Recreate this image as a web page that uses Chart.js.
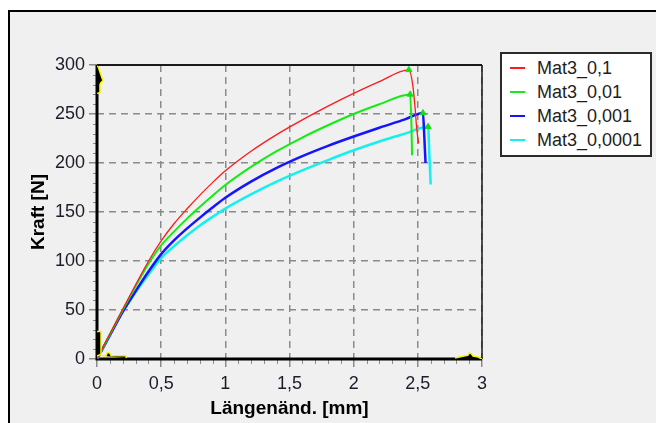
<!DOCTYPE html>
<html lang="de">
<head>
<meta charset="UTF-8">
<title>Kraft-Längenänderung Mat3</title>
<style>
  body { margin: 0; background: #fff; font-family: "Liberation Sans", Arial, sans-serif; }
  .wrap { position: relative; width: 656px; height: 423px; overflow: hidden; }
  .frame { position: absolute; left: 8px; top: 10px; width: 700px; height: 500px; background: #f0f0f0; border-left: 2px solid #000; border-top: 2px solid #000; }
  #chart { position: absolute; left: 0; top: 0; }
  .legend { position: absolute; left: 500px; top: 52px; width: 152px; height: 105px; box-sizing: border-box; border: 2px solid #2b2b2b; background: #fff; padding-top: 2px; }
  .legend .row { height: 24px; display: flex; align-items: center; font-size: 18px; color: #1e1e1e; white-space: nowrap; }
  .legend .swatch { width: 15px; height: 2px; margin-left: 8px; margin-right: 12px; }
</style>
<script src="https://cdn.jsdelivr.net/npm/chart.js"></script>
</head>
<body>
<div class="wrap">
  <div class="frame"></div>
  <canvas id="chart" width="656" height="423"></canvas>
  <div class="legend" id="legend"></div>
</div>

<script>
  // Versuchsreihen
  const seriesLabels = ['Mat3_0,1', 'Mat3_0,01', 'Mat3_0,001', 'Mat3_0,0001'];
  const seriesColors = ['#ff1a1a', '#12ec12', '#1414ff', '#14f0f0'];
  const lineWidths = [1.3, 2, 2.5, 2.5];
  const peakColor = '#10e010';

  // Längenänderung [mm] / Kraft [N]
  const dl01 = [0, 0.1, 0.2, 0.3, 0.4, 0.5, 0.6, 0.7, 0.8, 0.9, 1.0, 1.2, 1.4, 1.6, 1.8, 2.0, 2.2, 2.43, 2.46, 2.48, 2.49, 2.505];
  const f01  = [0, 25.5, 50.5, 75.5, 99.5, 120.5, 138, 153, 167, 180, 192, 212, 229, 244, 258, 271, 283, 295, 280, 254, 237, 220];

  const dl001 = [0, 0.1, 0.2, 0.3, 0.4, 0.5, 0.6, 0.7, 0.8, 0.9, 1.0, 1.2, 1.4, 1.6, 1.8, 2.0, 2.2, 2.44, 2.45, 2.455];
  const f001  = [0, 25, 50, 74, 97, 116, 130, 143, 155, 166.5, 177.5, 196, 212, 226, 238.5, 250, 260, 270, 240, 208];

  const dl0001 = [0, 0.1, 0.2, 0.3, 0.4, 0.5, 0.6, 0.7, 0.8, 0.9, 1.0, 1.2, 1.4, 1.6, 1.8, 2.0, 2.2, 2.4, 2.54, 2.55, 2.56];
  const f0001  = [0, 24, 48, 69, 89, 107, 121, 133, 144, 154.5, 164.5, 181, 195, 207, 217.5, 227, 236, 244.5, 251, 228, 200];

  const dl00001 = [0, 0.1, 0.2, 0.3, 0.4, 0.5, 0.6, 0.7, 0.8, 0.9, 1.0, 1.2, 1.4, 1.6, 1.8, 2.0, 2.2, 2.4, 2.58, 2.59, 2.60];
  const f00001  = [0, 24, 48, 68, 86, 103, 115, 126, 136, 145, 153.5, 168, 181, 192.5, 203, 213, 222, 230, 237, 208, 178];

  const seriesX = [dl01, dl001, dl0001, dl00001];
  const seriesY = [f01, f001, f0001, f00001];

  // Schieber-Markierungen an den Achsenenden
  const cursorTopX = [0, 0.01, 0.03, 0.047, 0.03, 0.023, 0.023, 0];
  const cursorTopY = [299, 298, 290, 284, 282, 280, 272, 271];
  const cursorLeftX = [0, 0.031, 0.031, 0];
  const cursorLeftY = [28, 28, 5, 3];
  const cursorBottomX = [0.035, 0.07, 0.08, 0.1, 0.11, 0.225, 0.228];
  const cursorBottomY = [3.4, 3.4, 6.5, 6, 3.4, 3.4, 1];
  const cursorRightX = [2.79, 2.86, 2.89, 2.9, 2.915, 2.93, 2.97, 3];
  const cursorRightY = [1, 3, 3.7, 6, 5.5, 3, 2, 0];

  // Achsen
  const xMin = 0, xMax = 3, xStep = 0.5, xMinorStep = 0.1;
  const yMin = 0, yMax = 300, yStep = 50, yMinorStep = 10;
  const xTitle = 'Längenänd. [mm]';
  const yTitle = 'Kraft [N]';

  const toPoints = (xs, ys) => xs.map((x, i) => ({ x: x, y: ys[i] }));
  const comma = v => String(v).replace('.', ',');

  const curveSets = seriesLabels.map((label, i) => {
    const ys = seriesY[i];
    const peak = ys.indexOf(Math.max(...ys));
    return {
      label: label,
      data: toPoints(seriesX[i], ys),
      showLine: true,
      borderColor: seriesColors[i],
      borderWidth: lineWidths[i],
      cubicInterpolationMode: 'monotone',
      pointStyle: 'triangle',
      pointRadius: ctx => ctx.dataIndex === peak ? 3.5 : 0,
      pointBackgroundColor: peakColor,
      pointBorderColor: peakColor,
      pointBorderWidth: 1
    };
  });

  const cursorSet = (xs, ys) => ({
    data: toPoints(xs, ys),
    showLine: true,
    borderColor: '#f5f500',
    borderWidth: 1.5,
    backgroundColor: '#000',
    fill: 'shape',
    pointRadius: 0,
    order: -1
  });

  const cursorSets = [
    cursorSet(cursorTopX, cursorTopY),
    cursorSet(cursorLeftX, cursorLeftY),
    cursorSet(cursorBottomX, cursorBottomY),
    cursorSet(cursorRightX, cursorRightY)
  ];

  // dünner Rahmen oben/rechts, dicke Achsen, kleine Zwischenstriche
  const axisFrame = {
    id: 'axisFrame',
    beforeDatasetsDraw(chart) {
      const { ctx, chartArea: a, scales: { x, y } } = chart;
      ctx.save();
      ctx.strokeStyle = '#8c8c8c';
      ctx.lineWidth = 1;
      ctx.beginPath();
      for (let i = 0; i <= Math.round((xMax - xMin) / xMinorStep); i++) {
        if (i % Math.round(xStep / xMinorStep) === 0) continue;
        const px = Math.round(x.getPixelForValue(xMin + i * xMinorStep)) + 0.5;
        ctx.moveTo(px, a.bottom + 1);
        ctx.lineTo(px, a.bottom + 5);
      }
      for (let i = 0; i <= Math.round((yMax - yMin) / yMinorStep); i++) {
        if (i % Math.round(yStep / yMinorStep) === 0) continue;
        const py = Math.round(y.getPixelForValue(yMin + i * yMinorStep)) + 0.5;
        ctx.moveTo(a.left - 1, py);
        ctx.lineTo(a.left - 4, py);
      }
      ctx.stroke();

      ctx.strokeStyle = '#1a1a1a';
      ctx.lineWidth = 2;
      ctx.beginPath();
      ctx.moveTo(a.left, a.top);
      ctx.lineTo(a.right, a.top);
      ctx.stroke();
      ctx.lineWidth = 1.5;
      ctx.beginPath();
      ctx.moveTo(a.right, a.top);
      ctx.lineTo(a.right, a.bottom);
      ctx.stroke();

      ctx.strokeStyle = '#000';
      ctx.lineWidth = 3;
      ctx.beginPath();
      ctx.moveTo(a.left, a.top);
      ctx.lineTo(a.left, a.bottom);
      ctx.lineTo(a.right, a.bottom);
      ctx.stroke();
      ctx.restore();
    }
  };

  const tickFont = { family: '"Liberation Sans", Arial, sans-serif', size: 18 };
  const titleFont = { family: '"Liberation Sans", Arial, sans-serif', size: 19, weight: 'bold' };
  const gridOpts = {
    color: '#8a8a8a',
    lineWidth: 1.5,
    drawTicks: true,
    tickLength: 8,
    tickColor: '#8a8a8a',
    tickWidth: 1.5,
    tickBorderDash: []
  };

  new Chart(document.getElementById('chart'), {
    type: 'scatter',
    data: { datasets: curveSets.concat(cursorSets) },
    plugins: [axisFrame],
    options: {
      responsive: false,
      animation: false,
      events: [],
      layout: { padding: { left: 0, top: 65, right: 174, bottom: 0 } },
      plugins: { legend: { display: false }, tooltip: { enabled: false } },
      scales: {
        x: {
          type: 'linear',
          min: xMin, max: xMax,
          afterFit: s => { s.height = 64; },
          ticks: { stepSize: xStep, color: '#1c1c2a', font: tickFont, padding: 6, maxRotation: 0, callback: comma },
          grid: gridOpts,
          border: { display: false, dash: [7, 5] },
          title: { display: true, text: xTitle, color: '#000', font: titleFont, padding: { top: 0, bottom: 3 } }
        },
        y: {
          type: 'linear',
          min: yMin, max: yMax,
          afterFit: s => { s.width = 97; },
          ticks: { stepSize: yStep, color: '#1c1c2a', font: tickFont, padding: 4, callback: comma },
          grid: gridOpts,
          border: { display: false, dash: [7, 5] },
          title: { display: true, text: yTitle, color: '#000', font: titleFont, padding: { top: 27, bottom: 0 } }
        }
      }
    }
  });

  // Legende
  const legend = document.getElementById('legend');
  seriesLabels.forEach((label, i) => {
    const row = document.createElement('div');
    row.className = 'row';
    const sw = document.createElement('span');
    sw.className = 'swatch';
    sw.style.background = seriesColors[i];
    row.appendChild(sw);
    row.appendChild(document.createTextNode(label));
    legend.appendChild(row);
  });
</script>
</body>
</html>
